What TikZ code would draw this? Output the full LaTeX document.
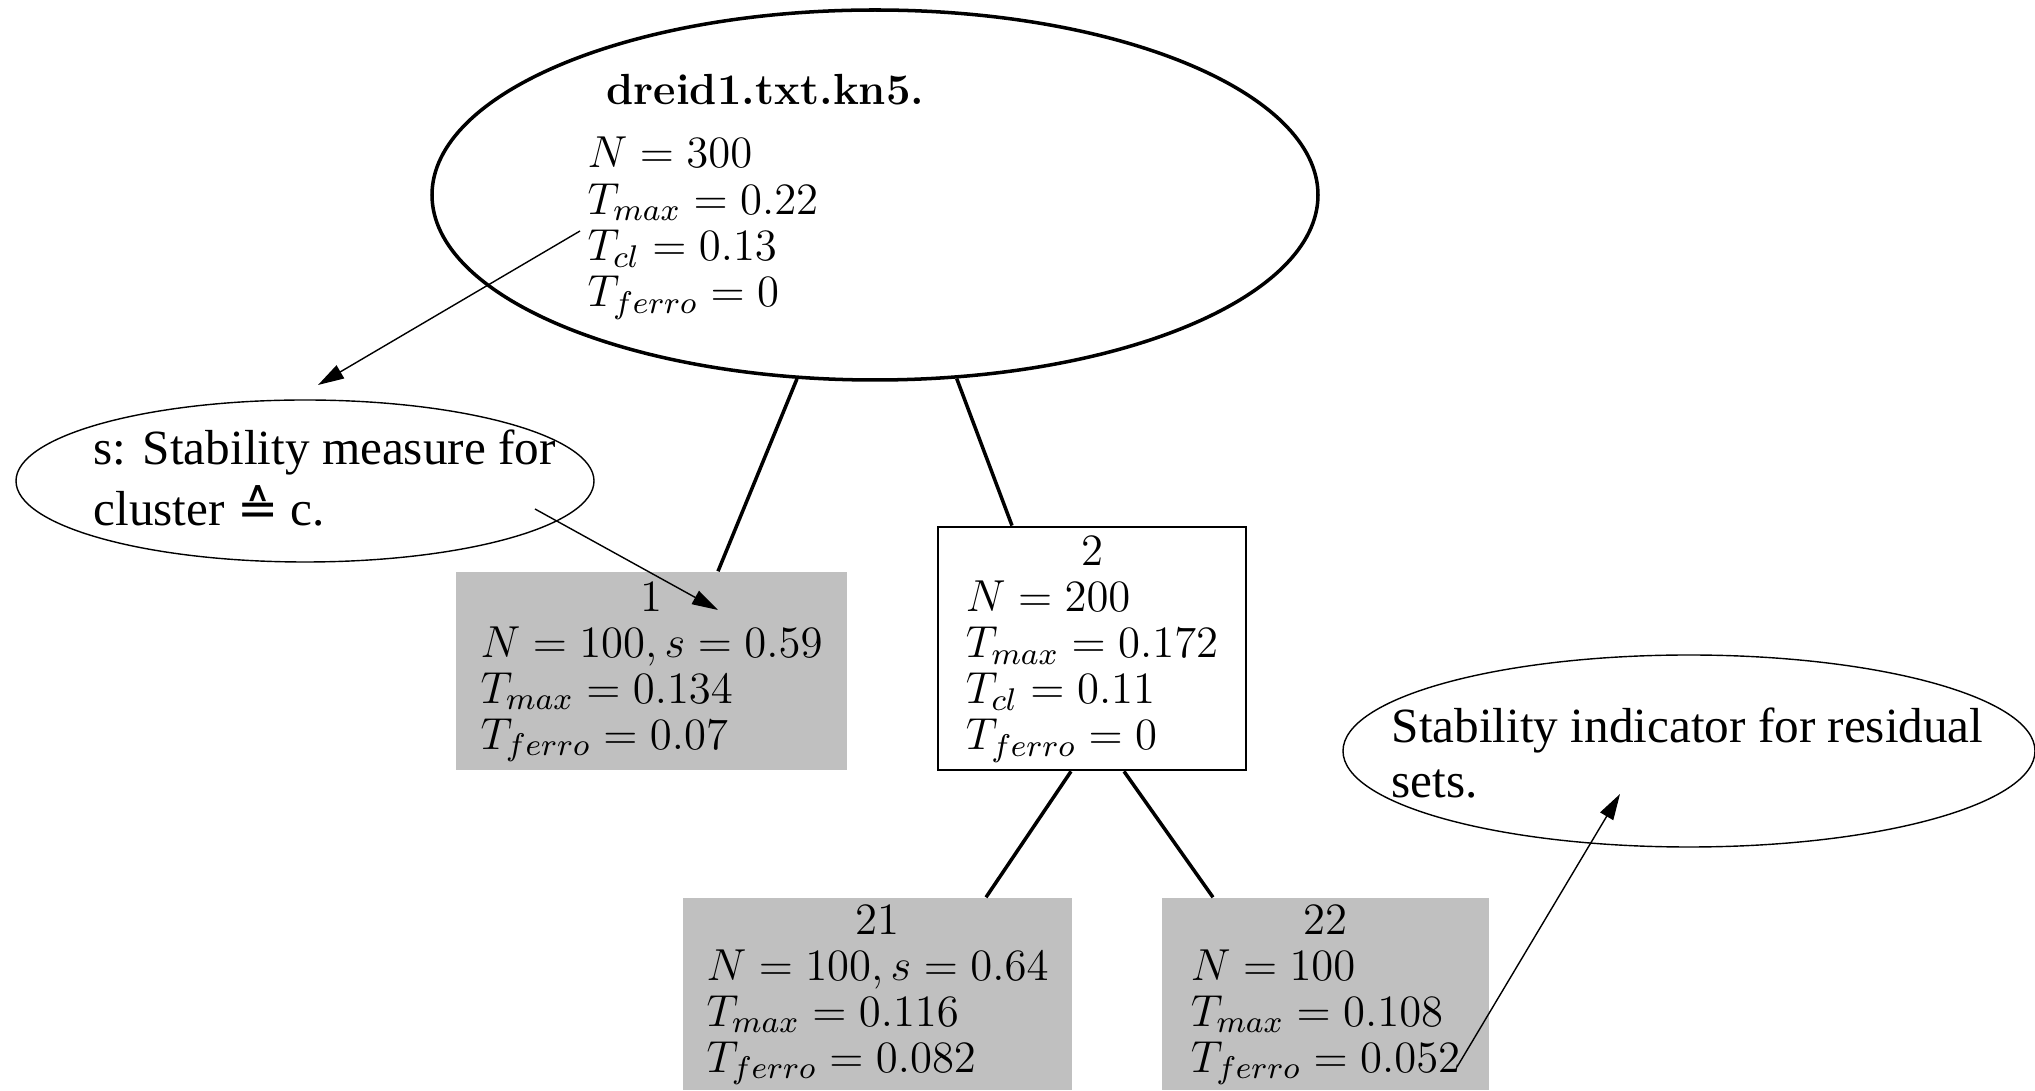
\RequirePackage{fix-cm}
\documentclass[tikz,border=0pt]{standalone}
\usepackage{fontspec}
\usepackage{amsmath}
\usepackage{amssymb}
\usetikzlibrary{shapes.geometric,arrows.meta}
\newfontfamily\notefont{Liberation Serif}
\newfontfamily\symbolfont{DejaVu Sans}
\definecolor{leafgray}{RGB}{192,192,192}

\begin{document}
\begin{tikzpicture}[x=0.1mm, y=-0.1mm,
  every node/.style={font=\fontsize{12.75}{13.1}\selectfont},
  rootnode/.style={ellipse, draw, line width=1pt, minimum width=8.86cm, minimum height=3.7cm, inner sep=0pt},
  leafbox/.style={fill=leafgray, inner sep=0pt},
  splitbox/.style={draw, line width=0.8pt, inner sep=0pt},
  callout/.style={ellipse, draw, line width=0.4pt, inner sep=0pt},
  notetext/.style={font=\notefont\fontsize{14}{16.5}\selectfont, align=left, inner sep=0pt},
  treeedge/.style={line width=1pt},
  pointer/.style={line width=0.4pt, -{Triangle[length=2.6mm,width=1.5mm]}}]
  \useasboundingbox (0,0) rectangle (2035,1091);

  % Wurzel
  \node[rootnode] (root) at (875,195) {};
  \node[anchor=west, align=left, inner sep=0pt, font=\fontsize{12.75}{13.2}\selectfont] (roottext) at (587,197)
    {\hspace*{1.9mm}{\fontsize{12.4}{13}\selectfont\textbf{dreid1.txt.kn5.}}\\[4.8pt]
     $N = 300$\\ $T_{max} = 0.22$\\ $T_{cl} = 0.13$\\ $T_{ferro} = 0$};

  % Cluster 1
  \node[leafbox, minimum width=3.91cm, minimum height=1.98cm] (c1) at (651.5,671)
    {\begin{tabular}{@{}l@{}}\multicolumn{1}{@{}c@{}}{1}\\
     $N = 100, s = 0.59$\\ $T_{max} = 0.134$\\ $T_{ferro} = 0.07$\end{tabular}};

  % Knoten 2
  \node[splitbox, minimum width=3.08cm, minimum height=2.43cm] (c2) at (1092,648.5)
    {\begin{tabular}{@{}l@{}}\multicolumn{1}{@{}c@{}}{2}\\
     $N = 200$\\ $T_{max} = 0.172$\\ $T_{cl} = 0.11$\\ $T_{ferro} = 0$\end{tabular}};

  % Cluster 21
  \node[leafbox, minimum width=3.89cm, minimum height=1.92cm] (c21) at (877.5,994)
    {\begin{tabular}{@{}l@{}}\multicolumn{1}{@{}c@{}}{21}\\
     $N = 100, s = 0.64$\\ $T_{max} = 0.116$\\ $T_{ferro} = 0.082$\end{tabular}};

  % Rest 22
  \node[leafbox, minimum width=3.27cm, minimum height=1.92cm] (c22) at (1325.5,994)
    {\begin{tabular}{@{}l@{}}\multicolumn{1}{@{}c@{}}{22}\\
     $N = 100$\\ $T_{max} = 0.108$\\ $T_{ferro} = 0.052$\end{tabular}};

  % Kanten
  \draw[treeedge] (root.-113) -- ([xshift=6.65mm]c1.north);
  \draw[treeedge] (root.-66) -- ([xshift=-8mm]c2.north);
  \draw[treeedge] ([xshift=-2.1mm]c2.south) -- ([xshift=10.85mm]c21.north);
  \draw[treeedge] ([xshift=3.2mm]c2.south) -- ([xshift=-11.25mm]c22.north);

  % Anmerkungen
  \node[callout, minimum width=5.78cm, minimum height=1.62cm] (lcall) at (305,481) {};
  \node[notetext, anchor=west, font=\notefont\fontsize{14}{17.3}\selectfont] (lcalltext) at (93,478)
    {s: Stability measure for\\ cluster {\symbolfont ≙} c.};
  \node[callout, minimum width=6.92cm, minimum height=1.92cm] (rcall) at (1689,751) {};
  \node[notetext, anchor=west, font=\notefont\fontsize{14}{15.9}\selectfont] (rcalltext) at (1391,753)
    {Stability indicator for residual\\ sets.};

  \coordinate (clfrom) at (580,231);
  \coordinate (clto) at (318,385);
  \coordinate (sfrom) at (535,509);
  \coordinate (sto) at (718,610);
  \coordinate (rfrom) at (1457,1067);
  \coordinate (rto) at (1620,794);
  \draw[pointer] (clfrom) -- (clto);
  \draw[pointer] (sfrom) -- (sto);
  \draw[pointer] (rfrom) -- (rto);
\end{tikzpicture}
\end{document}
